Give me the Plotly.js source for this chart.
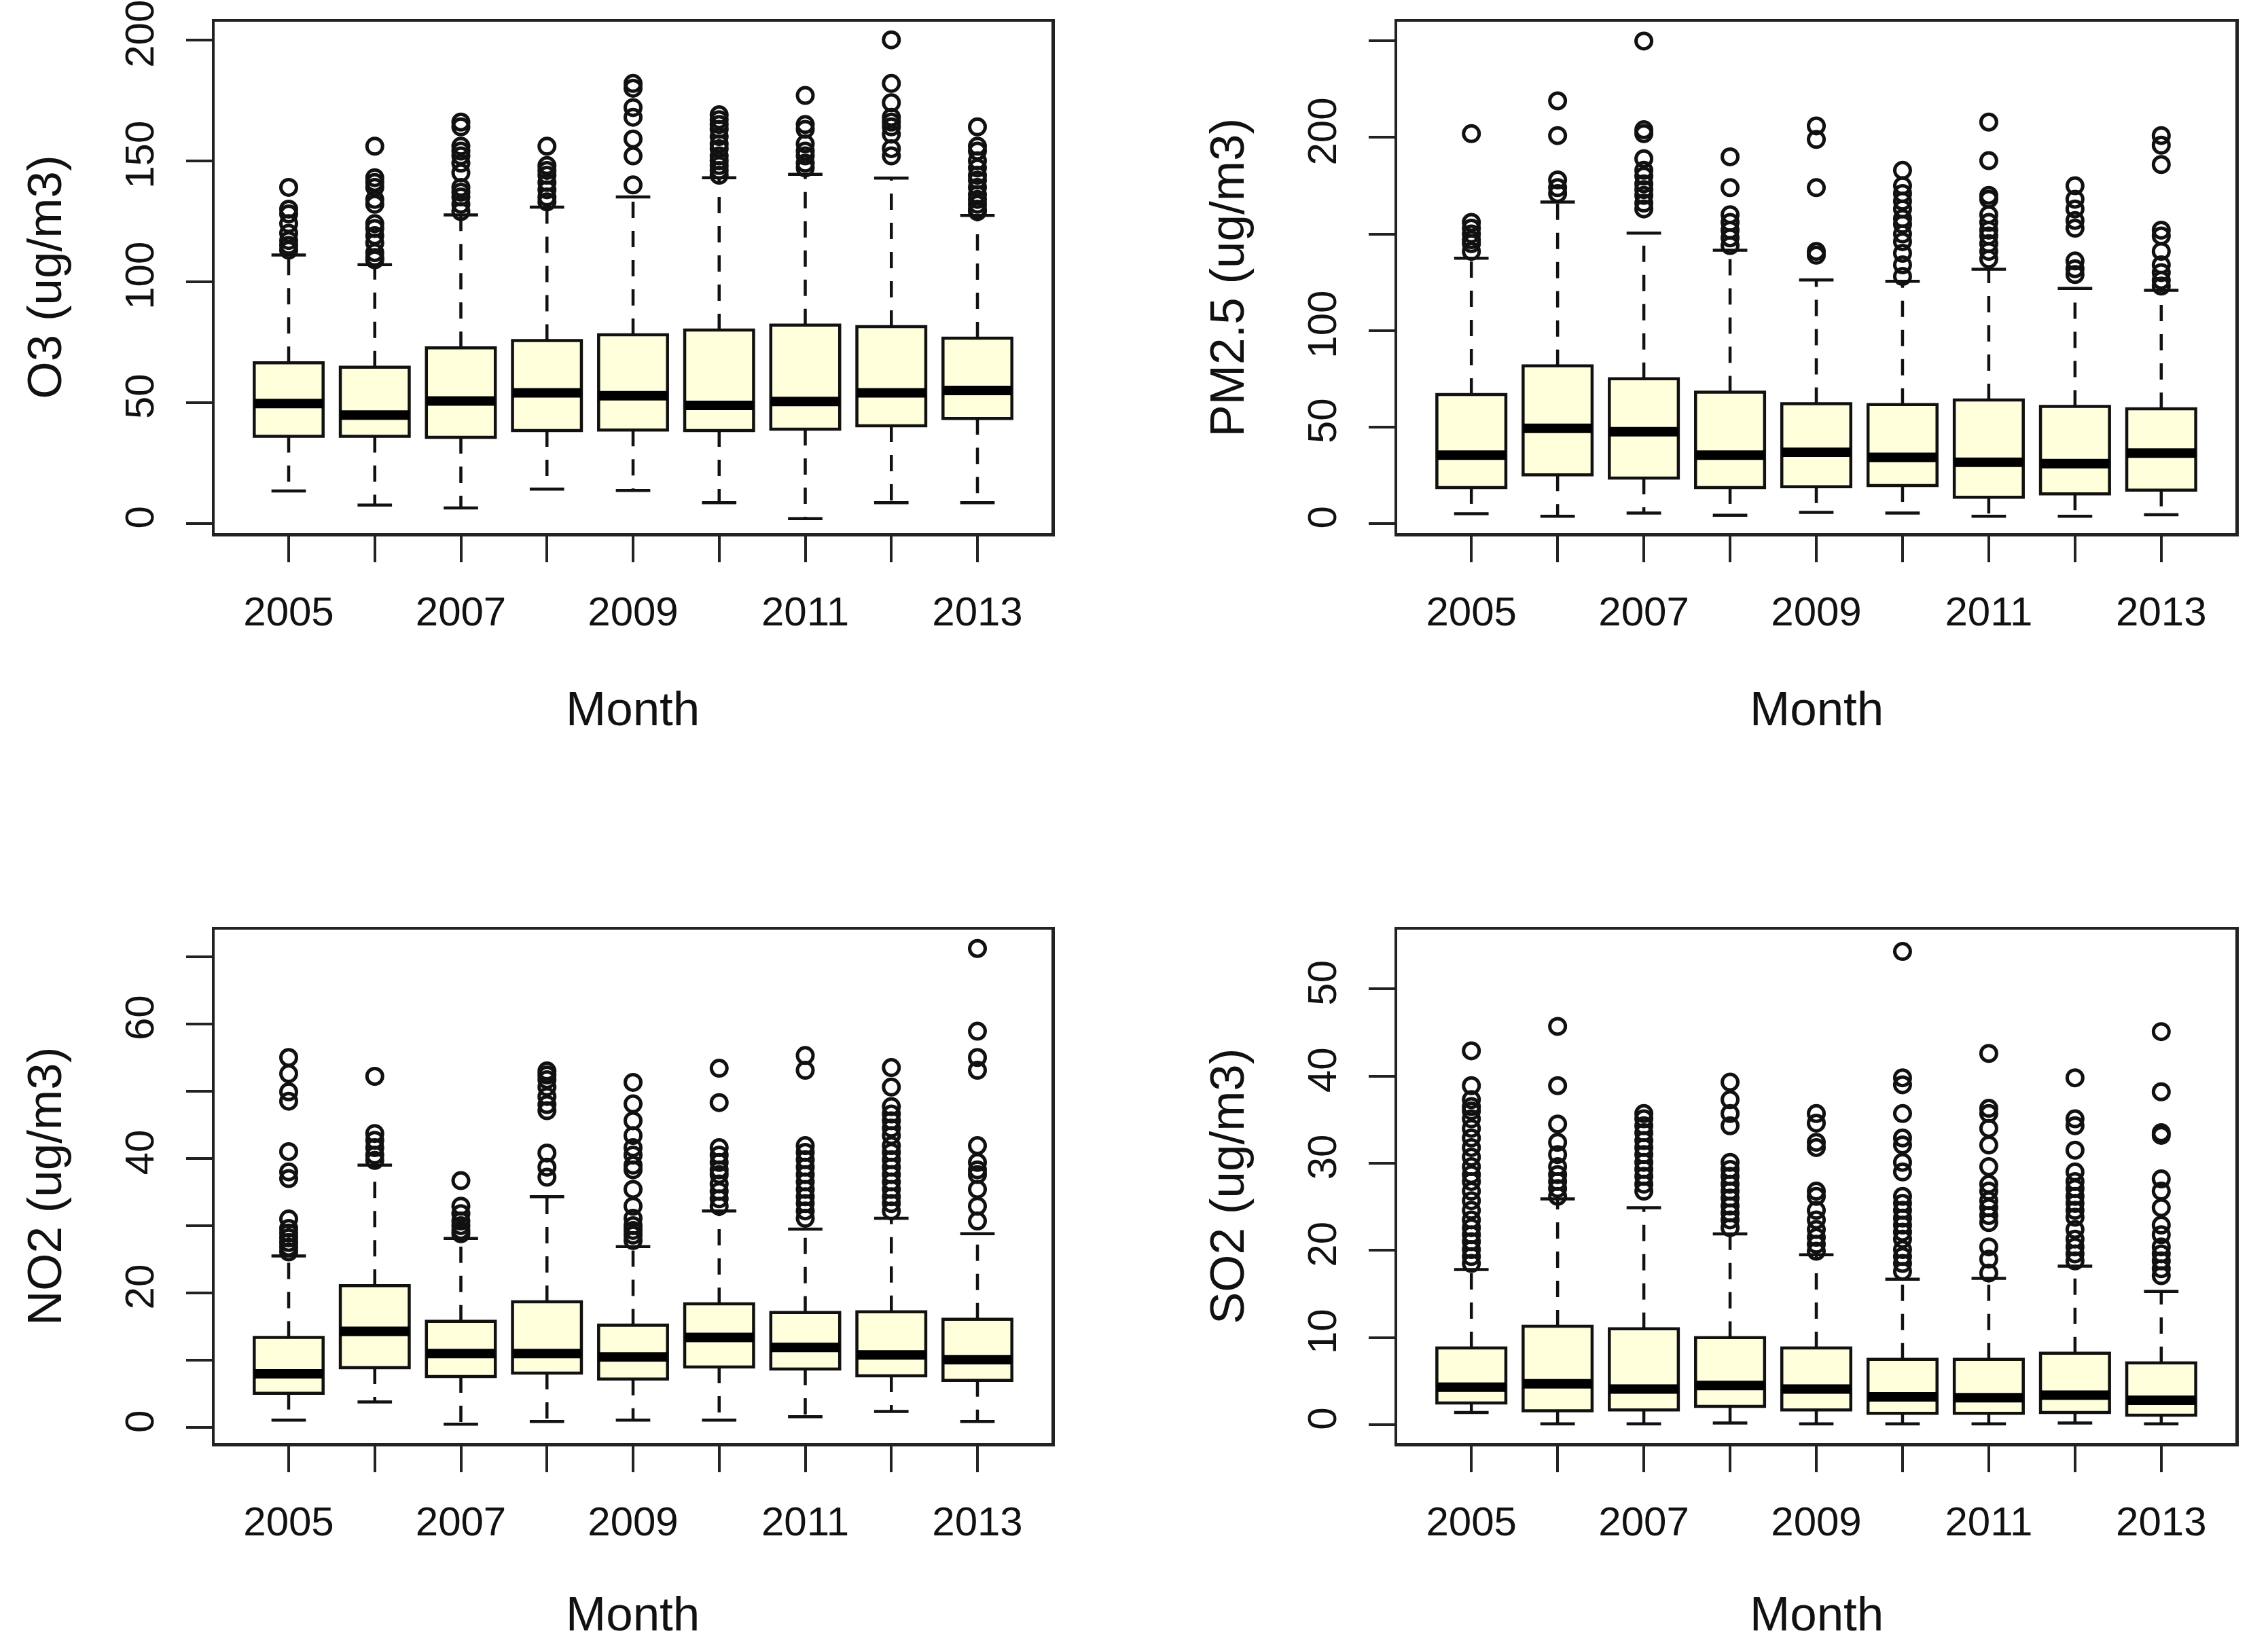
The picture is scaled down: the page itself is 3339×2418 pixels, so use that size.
<!DOCTYPE html>
<html>
<head>
<meta charset="utf-8">
<script src="https://cdn.plot.ly/plotly-3.0.1.min.js"></script>
<style>html,body{margin:0;padding:0;background:#fff;}#chart{width:3339px;height:2418px;}</style>
</head>
<body>
<div id="chart"></div>
<script>
// ---------------- data ----------------
const years = [2005, 2006, 2007, 2008, 2009, 2010, 2011, 2012, 2013];
const yearLabels = ['2005', '', '2007', '', '2009', '', '2011', '', '2013'];

// O3
const o3Q1  = [36, 36, 35.6, 38.4, 38.6, 38.4, 39, 40.4, 43.4];
const o3Med = [49.6, 44.8, 50.6, 54, 52.8, 48.8, 50.4, 54, 55];
const o3Q3  = [66.4, 64.6, 72.6, 75.6, 78, 80, 82, 81.4, 76.6];
const o3Lo  = [13.4, 7.6, 6.4, 14.2, 13.6, 8.6, 2, 8.6, 8.6];
const o3Hi  = [111, 107, 127.6, 130.8, 135, 143, 144.4, 142.8, 127.4];
const o3Out = [
  [139, 130, 128, 124, 120, 117, 115, 113],
  [156, 143, 141, 139, 134, 132, 124, 122, 119, 116, 112, 110, 109],
  [166, 164, 156, 154, 152, 149, 145, 139, 137, 135, 132, 129],
  [156, 148, 146, 144, 141, 138, 135, 133],
  [182, 180, 172, 168, 159, 152, 140],
  [169, 167, 165, 163, 160, 157, 155, 152, 150, 148, 146, 144],
  [177, 165, 163, 157, 154, 152, 149, 147],
  [200, 182, 174, 168, 166, 164, 161, 155, 152],
  [164, 156, 154, 150, 147, 144, 142, 139, 136, 134, 132, 130, 129]
];

// PM2.5
const pmQ1  = [18.6, 25.2, 23.5, 18.6, 19, 19.6, 13.6, 15.3, 17.3];
const pmMed = [35.4, 49.3, 47.5, 35.4, 36.9, 34.2, 31.7, 31, 36.4];
const pmQ3  = [66.8, 81.7, 75, 68, 62, 61.6, 64, 60.6, 59.4];
const pmLo  = [5, 3.7, 5.4, 4.2, 5.7, 5.4, 3.7, 3.7, 4.5];
const pmHi  = [137.4, 166.6, 150.5, 141.6, 126.2, 125.5, 131.7, 121.8, 120.8];
const pmOut = [
  [202, 156, 153, 150, 147, 145, 141],
  [219, 201, 178, 174, 171],
  [250, 204, 202, 189, 183, 180, 176, 173, 170, 166, 163],
  [190, 174, 160, 156, 152, 148, 144],
  [206, 199, 174, 141, 139],
  [183, 175, 171, 167, 163, 158, 155, 150, 146, 140, 134, 128],
  [208, 188, 170, 168, 160, 156, 152, 149, 145, 141, 137],
  [175, 168, 163, 157, 153, 136, 132, 129],
  [201, 196, 186, 152, 149, 141, 134, 130, 126, 123]
];

// NO2
const no2Q1  = [5.1, 8.9, 7.6, 8.1, 7.2, 9.0, 8.7, 7.7, 7.0];
const no2Med = [8.0, 14.3, 11.0, 11.0, 10.5, 13.4, 11.9, 10.8, 10.1];
const no2Q3  = [13.4, 21.1, 15.8, 18.7, 15.2, 18.4, 17.1, 17.2, 16.1];
const no2Lo  = [1.1, 3.8, 0.5, 0.9, 1.1, 1.1, 1.6, 2.4, 0.9];
const no2Hi  = [25.5, 39.0, 28.1, 34.3, 26.9, 32.2, 29.5, 31.1, 28.8];
const no2Out = [
  [55.0, 52.6, 49.9, 48.5, 41.0, 38.0, 37.0, 31.0, 29.6, 28.9, 28.2, 27.5, 26.8, 26.1],
  [52.2, 43.7, 42.7, 41.6, 40.5, 39.7],
  [36.7, 32.9, 31.8, 30.7, 30.0, 29.3, 28.8],
  [53.0, 52.4, 51.7, 50.6, 49.2, 48.0, 47.1, 40.8, 38.7, 37.2],
  [51.3, 48.1, 45.6, 43.4, 41.6, 40.5, 39.0, 38.3, 35.4, 32.9, 31.1, 30.0, 29.3, 28.6, 27.8],
  [53.4, 48.3, 41.6, 40.5, 39.4, 38.3, 37.6, 36.2, 35.1, 34.0, 32.9],
  [55.3, 53.1, 41.9, 40.9, 39.8, 38.7, 37.6, 36.5, 35.4, 34.3, 33.3, 32.2, 31.1],
  [53.5, 50.6, 47.7, 46.6, 45.6, 44.5, 43.4, 41.9, 40.9, 39.8, 38.7, 37.6, 36.5, 35.4, 34.3, 33.3, 32.2],
  [71.2, 58.9, 55.0, 53.1, 41.9, 39.4, 38.3, 37.6, 35.4, 32.9, 30.7]
];

// SO2
const so2Q1  = [2.5, 1.6, 1.7, 2.1, 1.7, 1.3, 1.3, 1.4, 1.1];
const so2Med = [4.3, 4.7, 4.1, 4.5, 4.1, 3.2, 3.1, 3.4, 2.8];
const so2Q3  = [8.8, 11.3, 11.0, 10.0, 8.8, 7.5, 7.5, 8.2, 7.1];
const so2Lo  = [1.4, 0.1, 0.1, 0.2, 0.1, 0.1, 0.1, 0.2, 0.1];
const so2Hi  = [17.8, 25.9, 24.9, 21.9, 19.5, 16.7, 16.8, 18.2, 15.3];
const so2Out = [
  [42.9, 38.9, 37.3, 36.5, 36.0, 35.1, 34.0, 32.9, 31.8, 30.7, 29.6, 28.7, 27.9, 26.8, 25.7, 24.6, 23.5, 22.6, 21.8, 21.0, 20.1, 19.3, 18.5],
  [45.7, 38.9, 34.5, 32.4, 31.0, 29.6, 28.7, 27.9, 27.1, 26.2],
  [35.7, 35.1, 34.3, 33.5, 32.6, 31.8, 31.0, 30.1, 29.3, 28.5, 27.6, 26.8],
  [39.3, 37.3, 35.7, 34.3, 30.1, 29.3, 28.5, 27.6, 26.8, 26.0, 25.1, 24.3, 23.5, 22.6],
  [35.7, 34.6, 32.4, 31.8, 26.8, 26.2, 24.6, 23.5, 22.4, 21.5, 20.7, 19.9],
  [54.3, 39.8, 39.0, 35.7, 32.9, 32.1, 30.1, 29.0, 26.2, 25.4, 24.6, 23.7, 22.9, 22.1, 21.3, 20.1, 19.3, 18.5, 17.6],
  [42.6, 36.3, 35.7, 34.0, 32.1, 29.6, 27.6, 26.8, 25.7, 24.9, 24.0, 23.2, 20.4, 19.0, 17.4],
  [39.8, 35.1, 34.3, 31.5, 29.0, 27.9, 27.1, 26.2, 25.4, 24.6, 23.8, 22.4, 21.3, 20.4, 19.6, 18.8],
  [45.1, 38.2, 33.5, 33.2, 28.2, 26.8, 24.9, 22.9, 21.8, 20.4, 19.6, 18.8, 17.9, 17.1]
];

// axis ticks
const o3Ticks = [0, 50, 100, 150, 200];
const o3TickText = ['0', '50', '100', '150', '200'];
const pmTicks = [0, 50, 100, 150, 200, 250];
const pmTickText = ['0', '50', '100', '', '200', ''];
const no2Ticks = [0, 10, 20, 30, 40, 50, 60, 70];
const no2TickText = ['0', '', '20', '', '40', '', '60', ''];
const so2Ticks = [0, 10, 20, 30, 40, 50];
const so2TickText = ['0', '10', '20', '30', '40', '50'];

const titles = ['O3 (ug/m3)', 'PM2.5 (ug/m3)', 'NO2 (ug/m3)', 'SO2 (ug/m3)'];

// ---------------- build ----------------
const W = 3339, H = 2418;
const FONT = 'Liberation Sans, Arial, Helvetica, sans-serif';
const pos = years.map((_, i) => i + 1);
const BOXW = 0.8;

const traces = [];
function addPanel(n, q1, med, q3, lo, hi, out) {
  const xa = 'x' + (n === 1 ? '' : n), ya = 'y' + (n === 1 ? '' : n);
  // whiskers (dashed)
  const wx = [], wy = [];
  pos.forEach((p, i) => { wx.push(p, p, null, p, p, null); wy.push(q3[i], hi[i], null, q1[i], lo[i], null); });
  traces.push({type: 'scatter', mode: 'lines', x: wx, y: wy, xaxis: xa, yaxis: ya,
    line: {color: '#111', width: 4.5, dash: '24px,19px'}, hoverinfo: 'skip', showlegend: false});
  // staples
  const sx = [], sy = [];
  pos.forEach((p, i) => { sx.push(p - BOXW / 4, p + BOXW / 4, null, p - BOXW / 4, p + BOXW / 4, null); sy.push(hi[i], hi[i], null, lo[i], lo[i], null); });
  traces.push({type: 'scatter', mode: 'lines', x: sx, y: sy, xaxis: xa, yaxis: ya,
    line: {color: '#111', width: 4.5}, hoverinfo: 'skip', showlegend: false});
  // boxes
  traces.push({type: 'box', x: pos, q1: q1, median: med, q3: q3, lowerfence: q1, upperfence: q3,
    width: BOXW, whiskerwidth: 0, boxpoints: false, fillcolor: '#FFFFDC',
    line: {color: '#111', width: 4.5}, xaxis: xa, yaxis: ya, hoverinfo: 'skip', showlegend: false});
  // thick medians
  const mx = [], my = [];
  pos.forEach((p, i) => { mx.push(p - BOXW / 2, p + BOXW / 2, null); my.push(med[i], med[i], null); });
  traces.push({type: 'scatter', mode: 'lines', x: mx, y: my, xaxis: xa, yaxis: ya,
    line: {color: '#000', width: 14}, hoverinfo: 'skip', showlegend: false});
  // outliers
  const ox = [], oy = [];
  out.forEach((arr, i) => arr.forEach(v => { ox.push(pos[i]); oy.push(v); }));
  traces.push({type: 'scatter', mode: 'markers', x: ox, y: oy, xaxis: xa, yaxis: ya,
    marker: {symbol: 'circle-open', size: 23, color: '#111', line: {width: 5, color: '#111'}},
    hoverinfo: 'skip', showlegend: false});
}
addPanel(1, o3Q1, o3Med, o3Q3, o3Lo, o3Hi, o3Out);
addPanel(2, pmQ1, pmMed, pmQ3, pmLo, pmHi, pmOut);
addPanel(3, no2Q1, no2Med, no2Q3, no2Lo, no2Hi, no2Out);
addPanel(4, so2Q1, so2Med, so2Q3, so2Lo, so2Hi, so2Out);

// panel geometry (pixels)
const cols = [[316, 1548], [2057, 3291]];
const rows = [[32, 785], [1369, 2125]];
const fx = px => px / W, fy = py => 1 - py / H;

function xAxis(col, row, anchor) {
  return {domain: [fx(cols[col][0]), fx(cols[col][1])], anchor: anchor,
    range: [0.14, 9.86], tickmode: 'array', tickvals: pos, ticktext: yearLabels,
    ticks: 'outside', ticklen: 38, tickwidth: 4, tickcolor: '#222',
    showline: true, mirror: true, linewidth: 4.5, linecolor: '#222',
    showgrid: false, zeroline: false, fixedrange: true, ticklabeloverflow: 'allow',
    tickfont: {family: FONT, size: 60, color: '#111'}, ticklabelstandoff: 21};
}
function yAxis(col, row, anchor, range, tv, tt) {
  return {domain: [fy(rows[row][1]), fy(rows[row][0])], anchor: anchor,
    range: range, tickmode: 'array', tickvals: tv, ticktext: tt, tickangle: -90,
    ticks: 'outside', ticklen: 38, tickwidth: 4, tickcolor: '#222',
    showline: true, mirror: true, linewidth: 4.5, linecolor: '#222',
    showgrid: false, zeroline: false, fixedrange: true, ticklabeloverflow: 'allow',
    tickfont: {family: FONT, size: 60, color: '#111'}, ticklabelstandoff: 24};
}

const annotations = [];
const panels = [[0, 0], [1, 0], [0, 1], [1, 1]];
panels.forEach(([c, r], k) => {
  const cx = (cols[c][0] + cols[c][1]) / 2;
  const cy = (rows[r][0] + rows[r][1]) / 2;
  const monthAnn = {xref: 'paper', yref: 'paper', x: fx(cx), text: 'Month', showarrow: false,
    xanchor: 'center', font: {family: FONT, size: 71, color: '#111'}};
  if (r === 0) { monthAnn.y = fy(rows[r][1] + 258); monthAnn.yanchor = 'middle'; }
  else { monthAnn.y = 0; monthAnn.yanchor = 'bottom'; }
  annotations.push(monthAnn);
  annotations.push({xref: 'paper', yref: 'paper', x: fx(cols[c][0] - 251), y: fy(cy), text: titles[k],
    textangle: -90, showarrow: false, xanchor: 'center', yanchor: 'middle', font: {family: FONT, size: 71, color: '#111'}});
});

const layout = {
  width: W, height: H, margin: {l: 0, r: 0, t: 0, b: 0},
  paper_bgcolor: '#fff', plot_bgcolor: '#fff', showlegend: false,
  font: {family: FONT, color: '#111'},
  xaxis: xAxis(0, 0, 'y'), yaxis: yAxis(0, 0, 'x', [-4, 207.5], o3Ticks, o3TickText),
  xaxis2: xAxis(1, 0, 'y2'), yaxis2: yAxis(1, 0, 'x2', [-5, 260], pmTicks, pmTickText),
  xaxis3: xAxis(0, 1, 'y3'), yaxis3: yAxis(0, 1, 'x3', [-2.3, 74], no2Ticks, no2TickText),
  xaxis4: xAxis(1, 1, 'y4'), yaxis4: yAxis(1, 1, 'x4', [-2.1, 56.8], so2Ticks, so2TickText),
  annotations: annotations
};

Plotly.newPlot('chart', traces, layout, {staticPlot: true, displayModeBar: false});
</script>
</body>
</html>
